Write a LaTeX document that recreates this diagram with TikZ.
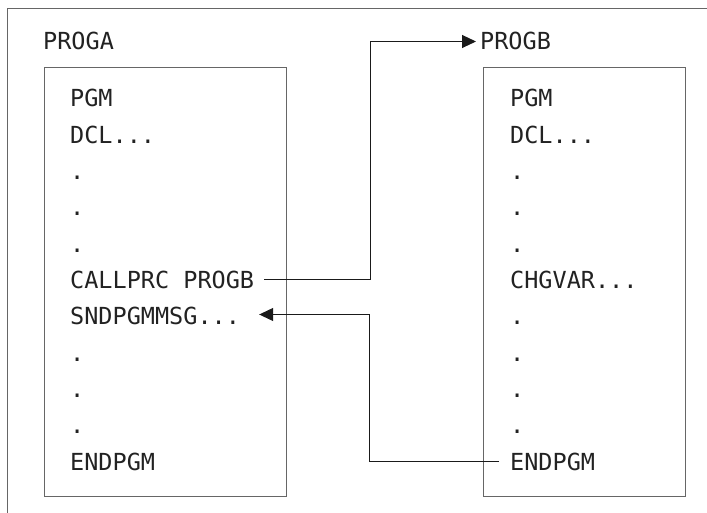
\documentclass[tikz,border=0pt]{standalone}
\usepackage{fontspec}
\newfontfamily\codefont{DejaVu Sans Mono}
\usetikzlibrary{arrows.meta}
\definecolor{boxgray}{HTML}{666666}
\definecolor{txt}{HTML}{222222}
\definecolor{conn}{HTML}{1A1A1A}
\tikzset{
  code/.style={anchor=base west, inner sep=0pt, text=txt, font=\codefont\fontsize{23.5}{28}\selectfont},
  prog/.style={draw=boxgray, line width=1pt, anchor=north west, inner sep=0pt},
  frame/.style={draw=boxgray, line width=1pt},
  link/.style={draw=conn, line width=1pt},
  tip/.style={-{Triangle[length=14pt,width=13pt]}}
}
\begin{document}
\begin{tikzpicture}[x=1pt,y=-1pt]
\useasboundingbox (0,0) rectangle (707,513);
\draw[frame] (7.5,513) -- (7.5,8.5) -- (707,8.5);
\node[prog, minimum width=242pt, minimum height=428pt] (boxA) at (43.5,67.5) {};
\node[prog, minimum width=202pt, minimum height=428pt] (boxB) at (482.5,67.5) {};
\node[code] (proga) at (43,49.5) {PROGA};
\node[code] (progb) at (480,49.5) {PROGB};
% left program
\node[code] (a1) at (70,107) {PGM};
\node[code] (a2) at (70,143.3) {DCL...};
\node[code] (a3) at (70,179.6) {.};
\node[code] (a4) at (70,215.9) {.};
\node[code] (a5) at (70,252.2) {.};
\node[code] (a6) at (70,288.5) {CALLPRC PROGB};
\node[code] (a7) at (70,324.8) {SNDPGMMSG...};
\node[code] (a8) at (70,361.1) {.};
\node[code] (a9) at (70,397.4) {.};
\node[code] (a10) at (70,433.7) {.};
\node[code] (a11) at (70,470) {ENDPGM};
% right program
\node[code] (b1) at (510,107) {PGM};
\node[code] (b2) at (510,143.3) {DCL...};
\node[code] (b3) at (510,179.6) {.};
\node[code] (b4) at (510,215.9) {.};
\node[code] (b5) at (510,252.2) {.};
\node[code] (b6) at (510,288.5) {CHGVAR...};
\node[code] (b7) at (510,324.8) {.};
\node[code] (b8) at (510,361.1) {.};
\node[code] (b9) at (510,397.4) {.};
\node[code] (b10) at (510,433.7) {.};
\node[code] (b11) at (510,470) {ENDPGM};
% connectors
\coordinate (bendA) at (370.5,41.5);
\coordinate (bendB) at (369.5,314.5);
\draw[link, tip] ([xshift=10pt,yshift=0.5pt]a6.east) -| (bendA) -- ([xshift=-4pt]progb.west |- bendA);
\draw[link, tip] ([xshift=-11pt]b11.west) -| (bendB) -- ([xshift=19pt]a7.east |- bendB);
\end{tikzpicture}
\end{document}
